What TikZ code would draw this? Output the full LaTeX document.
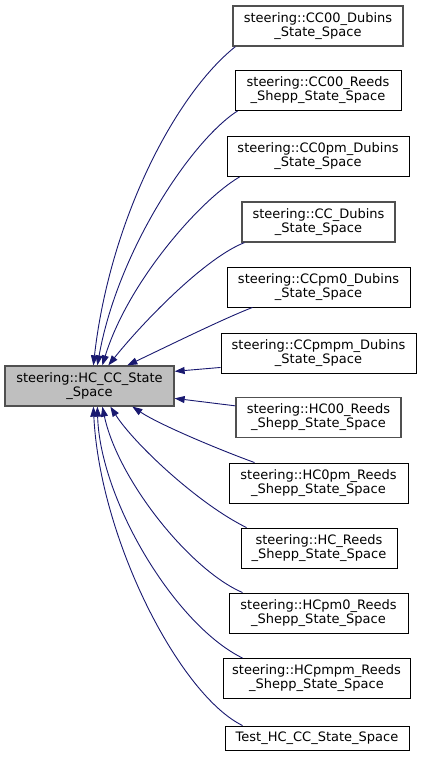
\documentclass[tikz,border=0pt]{standalone}
\usepackage{fontspec}
\setmainfont{DejaVu Sans}
\usetikzlibrary{arrows.meta,calc}
\definecolor{edgeblue}{HTML}{191970}
\definecolor{boxgray}{HTML}{505050}
\definecolor{basefill}{HTML}{BFBFBF}
\tikzset{
  cls/.style={draw=black, line width=0.9pt, fill=white, inner sep=0pt, align=center,
    font=\fontsize{13}{14}\selectfont, minimum height=40pt},
  clsgray/.style={cls, draw=boxgray, line width=1.3pt},
  basecls/.style={clsgray, fill=basefill},
  inh/.style={draw=edgeblue, line width=0.9pt, {Triangle[length=10pt,width=7pt]}-}
}
\begin{document}
\begin{tikzpicture}[x=1pt,y=-1pt]
\useasboundingbox (0,0) rectangle (421,757);
\node[basecls, minimum width=169pt] (base) at (89.5,386) {steering::HC\_CC\_State\\\_Space};
\node[clsgray, minimum width=170pt] (c1) at (318,26) {steering::CC00\_Dubins\\\_State\_Space};
\node[cls, minimum width=166pt] (c2) at (318,90.5) {steering::CC00\_Reeds\\\_Shepp\_State\_Space};
\node[cls, minimum width=182pt] (c3) at (318,156.5) {steering::CC0pm\_Dubins\\\_State\_Space};
\node[clsgray, minimum width=153pt] (c4) at (318.5,222) {steering::CC\_Dubins\\\_State\_Space};
\node[cls, minimum width=183pt] (c5) at (318.5,287) {steering::CCpm0\_Dubins\\\_State\_Space};
\node[cls, minimum width=195pt] (c6) at (318.5,353) {steering::CCpmpm\_Dubins\\\_State\_Space};
\node[clsgray, minimum width=165pt] (c7) at (318.5,417.5) {steering::HC00\_Reeds\\\_Shepp\_State\_Space};
\node[cls, minimum width=179pt] (c8) at (318.5,483) {steering::HC0pm\_Reeds\\\_Shepp\_State\_Space};
\node[cls, minimum width=156pt] (c9) at (319,548) {steering::HC\_Reeds\\\_Shepp\_State\_Space};
\node[cls, minimum width=179pt] (c10) at (318.5,613) {steering::HCpm0\_Reeds\\\_Shepp\_State\_Space};
\node[cls, minimum width=187pt] (c11) at (316.5,678.5) {steering::HCpmpm\_Reeds\\\_Shepp\_State\_Space};
\node[cls, minimum width=184pt, minimum height=24pt] (c12) at (317,738) {Test\_HC\_CC\_State\_Space};
% connectors (top group)
\draw[inh] ($(base.north west)+(89,0)$) .. controls (110,220) and (175,95) .. ($(c1.south west)+(3,0)$);
\draw[inh] ($(base.north west)+(93,0)$) .. controls (118,250) and (192,140) .. ($(c2.south west)+(3,0)$);
\draw[inh] ($(base.north west)+(98,0)$) .. controls (128,282) and (200,200) .. ($(c3.south west)+(13,0)$);
\draw[inh] ($(base.north west)+(104,0)$) .. controls (143,322) and (205,258) .. ($(c4.south west)+(3,0)$);
\draw[inh] ($(base.north west)+(123,0)$) .. controls (170,345) and (225,318) .. ($(c5.south west)+(26,0)$);
\draw[inh] ($(base.north east)+(0,6)$) -- ($(c6.south west)+(0,-6)$);
\draw[inh] ($(base.north east)+(0,33)$) -- ($(c7.north west)+(0,9)$);
% connectors (bottom group)
\draw[inh] ($(base.south west)+(128,0)$) .. controls (160,425) and (220,450) .. ($(c8.north west)+(26,0)$);
\draw[inh] ($(base.south west)+(106,0)$) .. controls (135,445) and (200,505) .. ($(c9.north west)+(6,0)$);
\draw[inh] ($(base.south west)+(98,0)$) .. controls (118,480) and (190,570) .. ($(c10.north west)+(14,0)$);
\draw[inh] ($(base.south west)+(93,0)$) .. controls (100,500) and (175,625) .. ($(c11.north west)+(20,0)$);
\draw[inh] ($(base.south west)+(89,0)$) .. controls (100,540) and (180,695) .. ($(c12.north west)+(18,0)$);
\end{tikzpicture}
\end{document}
